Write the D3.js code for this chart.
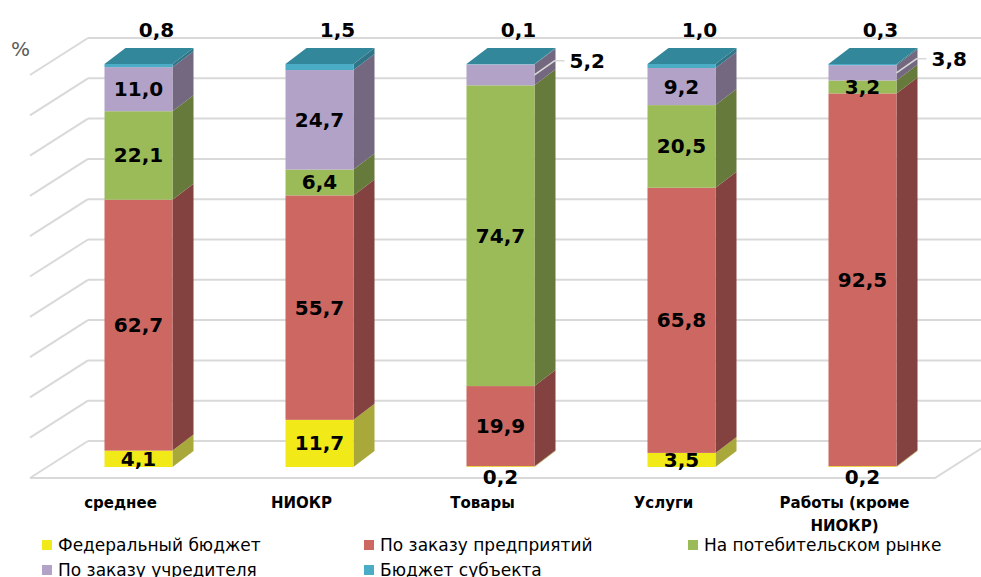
<!DOCTYPE html>
<html>

<head>
    <meta charset="UTF-8">
    <title>Источники финансирования</title>
    <style>
        body { margin: 0; background: #fff; }
        svg { display: block; font-family: "DejaVu Sans", Verdana, sans-serif; }
    </style>
</head>

<body>
    <script src="https://d3js.org/d3.v7.min.js"></script>
    <svg width="981" height="577"></svg>

    <script>
        let svg = d3.select("svg");

        // categories along the floor
        let categories = ["среднее", "НИОКР", "Товары", "Услуги", "Работы (кроме НИОКР)"];

        // series names, bottom to top of every bar
        let series_names = [
            "Федеральный бюджет",
            "По заказу предприятий",
            "На потебительском рынке",
            "По заказу учредителя",
            "Бюджет субъекта"
        ];

        // values, one per category
        let federal = [4.1, 11.7, 0.2, 3.5, 0.2];
        let enterprises = [62.7, 55.7, 19.9, 65.8, 92.5];
        let consumer = [22.1, 6.4, 74.7, 20.5, 3.2];
        let founder = [11.0, 24.7, 5.2, 9.2, 3.8];
        let regional = [0.8, 1.5, 0.1, 1.0, 0.3];

        let grid_ticks = d3.range(0, 1.0001, 0.1);

        // front face / side face colours for every series
        let front_colors = ["#F1E918", "#CC6762", "#9BBB59", "#B2A2C7", "#4BACC6"];
        let side_colors = ["#A9A83A", "#83413F", "#667A3B", "#73687F", "#2F7487"];
        let top_color = "#32879A";

        let all_series = [federal, enterprises, consumer, founder, regional];

        // table for d3.stack
        let table = categories.map((c, i) => {
            let row = { cat: c };
            series_names.forEach((s, j) => { row[s] = all_series[j][i]; });
            return row;
        });

        let stacked = d3.stack()
            .keys(series_names)
            .offset(d3.stackOffsetExpand)(table);

        // geometry of the 3d box
        let floor_left = 30, floor_right = 935, floor_front = 478;
        let wall_dx = 58, wall_dy = -37;      // depth of the floor
        let plot_h = 403;
        let bar_dx = 21, bar_dy = -16;        // depth of each bar
        let bar_shift = 18;                   // bar front sits this far into the floor
        let bar_w = 68;

        let x = d3.scaleBand()
            .domain(categories)
            .range([floor_left, floor_right]);

        // y on the front plane of the floor
        let y = d3.scaleLinear().domain([0, 1]).range([floor_front, floor_front - plot_h]);

        let ru = d3.formatLocale({ decimal: ",", thousands: " ", grouping: [3], currency: ["", ""] });
        let fmt = ru.format(".1f");

        // ---------- walls and gridlines ----------
        let grid = svg.append("g").attr("stroke", "#D9D9D9").attr("stroke-width", 2).attr("fill", "none");

        // back wall lines
        grid.selectAll("line.back")
            .data(grid_ticks).enter()
            .append("line")
            .attr("x1", floor_left + wall_dx)
            .attr("x2", 981)
            .attr("y1", d => y(d) + wall_dy)
            .attr("y2", d => y(d) + wall_dy);

        // left wall diagonals
        grid.selectAll("line.side")
            .data(grid_ticks).enter()
            .append("line")
            .attr("x1", floor_left)
            .attr("y1", d => y(d))
            .attr("x2", floor_left + wall_dx)
            .attr("y2", d => y(d) + wall_dy);

        // floor front edge + right edge
        grid.append("path")
            .attr("d", d3.line()([
                [floor_left, y(0)],
                [floor_right, y(0)],
                [floor_right + wall_dx, y(0) + wall_dy]
            ]));

        // % sign
        svg.append("text")
            .attr("x", 11)
            .attr("y", 56)
            .attr("fill", "#595959")
            .attr("font-size", 20)
            .text("%");

        // ---------- bars ----------
        let bar_x0 = c => x(c) + x.bandwidth() / 2 - bar_w / 2 + bar_shift;
        let by = v => y(v) - 11;   // front face of the bar sits a bit back

        let bars = svg.append("g");

        stacked.forEach((layer, si) => {
            let g = bars.append("g");
            layer.forEach((d, ci) => {
                let c = categories[ci];
                let x0 = bar_x0(c), x1 = x0 + bar_w;
                let y0 = by(d[0]), y1 = by(d[1]);

                // side face
                g.append("path")
                    .attr("fill", side_colors[si])
                    .attr("d", d3.line()([
                        [x1, y0], [x1 + bar_dx, y0 + bar_dy],
                        [x1 + bar_dx, y1 + bar_dy], [x1, y1]
                    ]) + "Z");

                // front face
                g.append("rect")
                    .attr("x", x0)
                    .attr("y", y1)
                    .attr("width", bar_w)
                    .attr("height", Math.max(0, y0 - y1))
                    .attr("fill", front_colors[si]);

                // top face on the topmost segment
                if (si === stacked.length - 1) {
                    g.append("path")
                        .attr("fill", top_color)
                        .attr("d", d3.line()([
                            [x0, y1], [x0 + bar_dx, y1 + bar_dy],
                            [x1 + bar_dx, y1 + bar_dy], [x1, y1]
                        ]) + "Z");
                }
            });
        });

        // ---------- value labels ----------
        let labels = svg.append("g")
            .attr("font-weight", "bold")
            .attr("font-size", 20)
            .attr("fill", "#000")
            .attr("text-anchor", "middle");

        stacked.forEach((layer, si) => {
            layer.forEach((d, ci) => {
                let c = categories[ci];
                let v = all_series[si][ci];
                let x0 = bar_x0(c), x1 = x0 + bar_w;
                let mid = (by(d[0]) + by(d[1])) / 2;
                let cx = x0 + bar_w / 2;

                if (si === stacked.length - 1) {
                    // above the bar
                    labels.append("text")
                        .attr("x", cx + 18)
                        .attr("y", 37)
                        .text(fmt(v));
                } else if (v < 1) {
                    // under the bar
                    labels.append("text")
                        .attr("x", cx)
                        .attr("y", by(0) + 17)
                        .text(fmt(v));
                } else if (si === 3 && v < 6) {
                    // leader line to the right
                    labels.append("path")
                        .attr("fill", "none")
                        .attr("stroke", "#D9D9D9")
                        .attr("stroke-width", 1.5)
                        .attr("d", d3.line()([
                            [x1, mid], [x1 + 20, mid - 14], [x1 + 30, mid - 14]
                        ]));
                    labels.append("text")
                        .attr("x", x1 + 35)
                        .attr("y", mid - 7)
                        .attr("text-anchor", "start")
                        .text(fmt(v));
                } else {
                    labels.append("text")
                        .attr("x", cx)
                        .attr("y", mid + 7)
                        .text(fmt(v));
                }
            });
        });

        // ---------- category labels ----------
        let cat_g = svg.append("g")
            .attr("font-weight", "bold")
            .attr("font-size", 15)
            .attr("fill", "#000")
            .attr("text-anchor", "middle");

        categories.forEach(c => {
            let t = cat_g.append("text")
                .attr("x", x(c) + x.bandwidth() / 2)
                .attr("y", 508);
            // simple word wrap inside the band
            let words = c.split(" ");
            let line = [];
            let tspan = t.append("tspan").attr("x", x(c) + x.bandwidth() / 2);
            words.forEach(w => {
                line.push(w);
                tspan.text(line.join(" "));
                if (tspan.node().getComputedTextLength() > 150 && line.length > 1) {
                    line.pop();
                    tspan.text(line.join(" "));
                    line = [w];
                    tspan = t.append("tspan")
                        .attr("x", x(c) + x.bandwidth() / 2)
                        .attr("dy", 23)
                        .text(w);
                }
            });
        });

        // ---------- legend ----------
        let legend_cols = [42, 364, 688];
        let legend = svg.append("g").attr("font-size", 17).attr("fill", "#000");

        series_names.forEach((s, i) => {
            let lx = legend_cols[i % 3];
            let ly = 545 + Math.floor(i / 3) * 25;
            legend.append("rect")
                .attr("x", lx)
                .attr("y", ly - 5)
                .attr("width", 10)
                .attr("height", 10)
                .attr("fill", front_colors[i]);
            legend.append("text")
                .attr("x", lx + 16)
                .attr("y", ly + 6)
                .text(s);
        });
    </script>
</body>

</html>
